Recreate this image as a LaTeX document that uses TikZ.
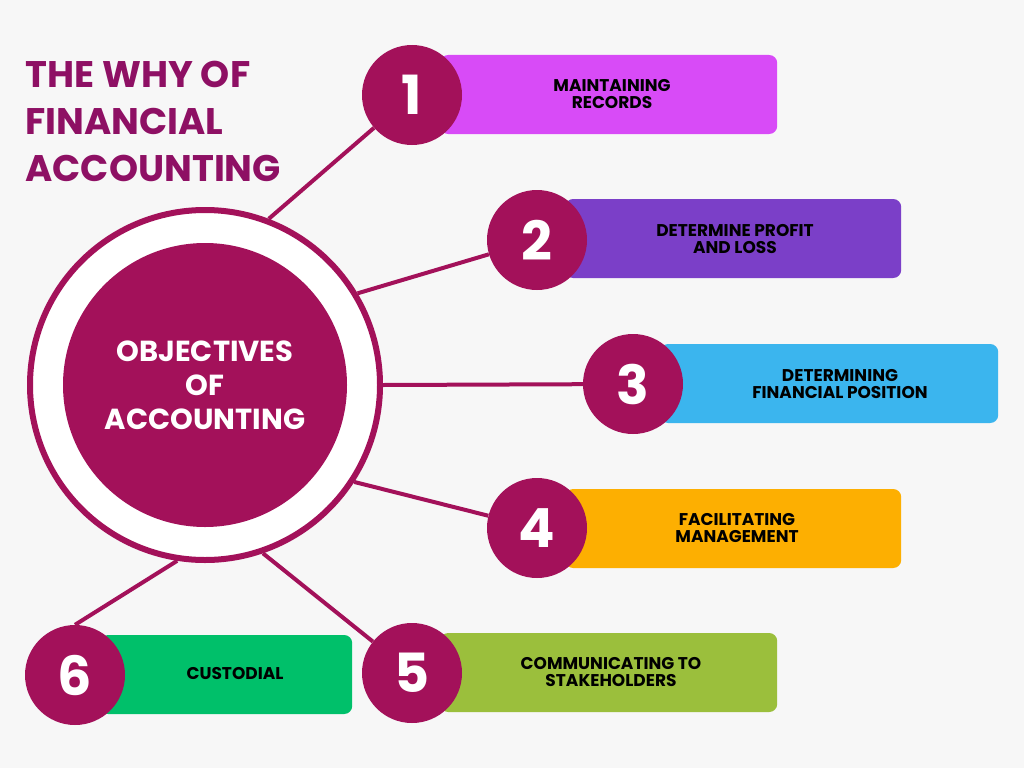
\documentclass[tikz,border=0pt]{standalone}
\usepackage{fontspec}
\setmainfont{Poppins}
\usetikzlibrary{positioning}
\definecolor{plum}{HTML}{A3115A}
\definecolor{titleplum}{HTML}{8E1064}
\definecolor{bgrey}{HTML}{F7F7F7}
\definecolor{cpink}{HTML}{D84BF7}
\definecolor{cviolet}{HTML}{7B3FC8}
\definecolor{csky}{HTML}{3BB5EE}
\definecolor{corange}{HTML}{FDAF01}
\definecolor{clime}{HTML}{9BBF3C}
\definecolor{cgreen}{HTML}{00C06A}
\tikzset{
  bar/.style={rounded corners=8pt, minimum height=79pt, inner sep=0pt},
  num/.style={circle, fill=plum, minimum size=100pt, inner sep=0pt, text=white, font=\fontsize{54}{54}\selectfont\bfseries},
  lbl/.style={align=center, font=\fontsize{17}{17}\selectfont\bfseries},
  link/.style={draw=plum, line width=4pt}
}
\begin{document}
\begin{tikzpicture}[x=1pt, y=-1pt]
		\fill[bgrey] (0,0) rectangle (1024,768);
		\useasboundingbox (0,0) rectangle (1024,768);
		% title
		\node[anchor=west, align=left, text=titleplum, font=\fontsize{37}{47}\selectfont\bfseries] (title) at (22,121) {THE WHY OF\\FINANCIAL\\ACCOUNTING};
		% centre
		\node[circle, draw=plum, line width=6pt, fill=white, minimum size=350pt] (ring) at (205,385) {};
		\node[circle, fill=plum, minimum size=284pt, text=white, align=center, font=\fontsize{29}{34}\selectfont\bfseries] (core) at (205,385) {OBJECTIVES\\OF\\ACCOUNTING};
		% bars
		\node[bar, fill=cpink, minimum width=337pt, anchor=west] (b1) at (440,94.5) {};
		\node[bar, fill=cviolet, minimum width=336pt, anchor=west] (b2) at (565,238.5) {};
		\node[bar, fill=csky, minimum width=338pt, anchor=west] (b3) at (660,383.5) {};
		\node[bar, fill=corange, minimum width=336pt, anchor=west] (b4) at (565,528.5) {};
		\node[bar, fill=clime, minimum width=337pt, anchor=west] (b5) at (440,672.5) {};
		\node[bar, fill=cgreen, minimum width=252pt, anchor=west] (b6) at (100,674.5) {};
		\node[lbl] (t1) at (612,94) {MAINTAINING\\RECORDS};
		\node[lbl] (t2) at (735,239) {DETERMINE PROFIT\\AND LOSS};
		\node[lbl] (t3) at (840,384) {DETERMINING\\FINANCIAL POSITION};
		\node[lbl] (t4) at (737,528) {FACILITATING\\MANAGEMENT};
		\node[lbl] (t5) at (611,672) {COMMUNICATING TO\\STAKEHOLDERS};
		\node[lbl] (t6) at (235,673) {CUSTODIAL};
		% numbers
		\node[num] (n1) at (412,95) {1};
		\node[num] (n2) at (537,240) {2};
		\node[num] (n3) at (633,384) {3};
		\node[num] (n4) at (537,528) {4};
		\node[num] (n5) at (412,673) {5};
		\node[num] (n6) at (75,675) {6};
		% links
		\draw[link] (ring.69) -- (n1);
		\draw[link] (ring.31) -- (n2);
		\draw[link] (ring.0) -- (n3);
		\draw[link] (ring.-33) -- (n4);
		\draw[link] (ring.-71) -- (n5);
		\draw[link] (ring.-99) -- (n6.north);
	\end{tikzpicture}
\end{document}
